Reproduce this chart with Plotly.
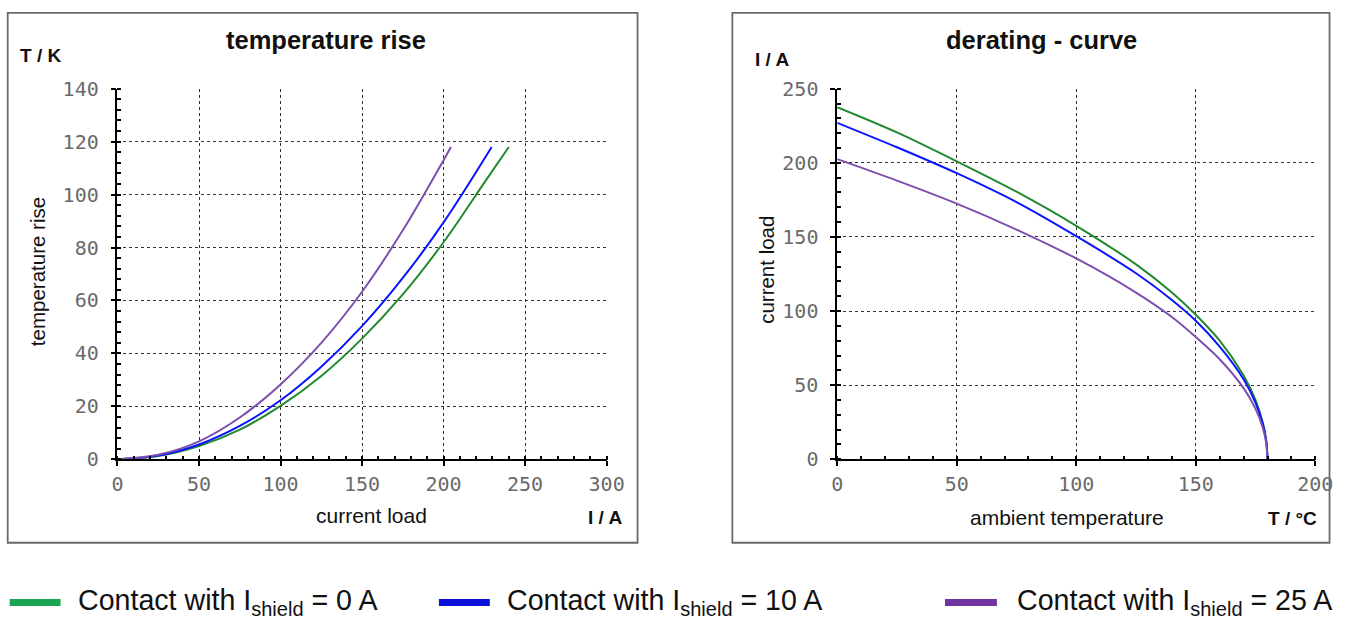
import plotly.graph_objects as go

W, H = 1349, 628
# the page photo maps figure pixel p to about 0.984*p + 5.3 (x) and 0.968*p + 10.8 (y);
# positions below are given in picture pixels and converted back
SX, BX, SY, BY = 0.984, 5.3, 0.968, 10.8

# ---------------- data ----------------
series_names = ["0 A", "10 A", "25 A"]
line_colors = ["#23892f", "#0a14ff", "#7d4fae"]
legend_colors = ["#1ba552", "#0a10d8", "#7033a0"]

# temperature rise (x: current load I / A, y: temperature rise T / K)
rise_I_0 = [0, 25, 50, 75, 100, 125, 150, 175, 200, 225, 240]
rise_T_0 = [0, 1.25, 5.0, 11.2, 20.2, 31.5, 45.6, 62.3, 82.0, 104.5, 118]
rise_I_10 = [0, 25, 50, 75, 100, 125, 150, 175, 200, 229.5]
rise_T_10 = [0, 1.4, 5.6, 12.6, 22.3, 35.0, 50.3, 68.5, 89.5, 118]
rise_I_25 = [0, 25, 50, 75, 100, 125, 150, 175, 200, 204.5]
rise_T_25 = [0, 1.7, 6.8, 15.8, 28.3, 44.0, 63.3, 86.5, 113.0, 118]

# derating curve (x: ambient temperature T / °C, y: current load I / A)
der_T = [0, 25, 50, 75, 100, 125, 140, 150, 160, 170, 175, 178, 179.5, 180]
der_I_0 = [237.5, 220.5, 201, 180.5, 157.5, 131.5, 112.5, 97.5, 80, 56.5, 40, 25, 12.5, 0]
der_I_10 = [227, 210.5, 193, 173.5, 150.5, 125.5, 107.5, 93.5, 76, 54, 38, 24, 12, 0]
der_I_25 = [202.5, 188, 172.5, 155, 135.5, 112.5, 96, 82.5, 67.5, 48, 34, 21.5, 10.5, 0]

rise_x = [rise_I_0, rise_I_10, rise_I_25]
rise_y = [rise_T_0, rise_T_10, rise_T_25]
der_y = [der_I_0, der_I_10, der_I_25]

# ---------------- figure ----------------
fig = go.Figure()
for i in range(3):
    fig.add_trace(go.Scatter(x=rise_x[i], y=rise_y[i], mode="lines",
                             line=dict(color=line_colors[i], width=2, shape="spline", smoothing=1),
                             name="Contact with I<sub>shield</sub> = " + series_names[i],
                             showlegend=False, xaxis="x", yaxis="y"))
for i in range(3):
    fig.add_trace(go.Scatter(x=der_T, y=der_y[i], mode="lines",
                             line=dict(color=line_colors[i], width=2, shape="spline", smoothing=0.8),
                             name="Contact with I<sub>shield</sub> = " + series_names[i],
                             showlegend=False, xaxis="x2", yaxis="y2"))


def px_x(t):
    p = (t - BX) / SX
    return min(max(p, 1), W - 1.5) / W


def px_y(t):
    p = (t - BY) / SY
    return 1 - min(max(p, 1), H - 1) / H


tickfont = dict(family="DejaVu Sans Mono", size=20, color="#6a6a6a")
grid = dict(showgrid=True, gridcolor="#333333", griddash="dot", gridwidth=1.3,
            showline=True, linecolor="black", linewidth=1.5, zeroline=False,
            ticks="outside", ticklen=5, tickcolor="black", tickwidth=1.5,
            tickfont=tickfont, fixedrange=True)
minor = dict(ticks="inside", ticklen=4, tickcolor="black", showgrid=False)

y_dom = [px_y(461), px_y(88)]

fig.update_layout(
    width=W, height=H,
    margin=dict(l=0, r=0, t=0, b=0),
    paper_bgcolor="white", plot_bgcolor="white",
    showlegend=False,
    xaxis=dict(domain=[px_x(117), px_x(607)], range=[0, 300], tickvals=[0, 50, 100, 150, 200, 250, 300],
               anchor="y", ticklabelstandoff=1, minor=dict(dtick=10, **minor), **grid),
    yaxis=dict(domain=y_dom, range=[0, 140], tickvals=[0, 20, 40, 60, 80, 100, 120, 140],
               anchor="x", ticklabelstandoff=8, minor=dict(dtick=4, **minor), **grid),
    xaxis2=dict(domain=[px_x(838), px_x(1317)], range=[0, 200], tickvals=[0, 50, 100, 150, 200],
                anchor="y2", ticklabelstandoff=1, minor=dict(dtick=10, **minor), **grid),
    yaxis2=dict(domain=y_dom, range=[0, 250], tickvals=[0, 50, 100, 150, 200, 250],
                anchor="x2", ticklabelstandoff=8, minor=dict(dtick=10, **minor), **grid),
)

# frames around the two charts
for x0, x1 in [(7, 638), (733, 1346)]:
    fig.add_shape(type="rect", xref="paper", yref="paper",
                  x0=px_x(x0), x1=px_x(x1), y0=px_y(545), y1=px_y(10),
                  line=dict(color="#6a6a6a", width=1.8), fillcolor="rgba(0,0,0,0)", layer="below")


def ann(text, x, y, size, xanchor="center", angle=0, weight="normal"):
    fig.add_annotation(text=text, xref="paper", yref="paper", x=px_x(x), y=px_y(y),
                       xanchor=xanchor, yanchor="middle", showarrow=False, textangle=angle,
                       font=dict(family="Liberation Sans, Arial, sans-serif", size=size,
                                 color="#111111", weight=weight))


# left chart texts
ann("temperature rise", 326, 39, 25.5, weight="bold")
ann("T / K", 17, 55, 19, xanchor="left", weight="bold")
ann("temperature rise", 37, 272, 20.5, angle=-90)
ann("current load", 371, 518, 21)
ann("I / A", 605, 520, 19, weight="bold")

# right chart texts
ann("derating - curve", 1043, 39, 25.5, weight="bold")
ann("I / A", 754, 59, 19, xanchor="left", weight="bold")
ann("current load", 767, 270, 20.5, angle=-90)
ann("ambient temperature", 1068, 520, 21)
ann("T / °C", 1294, 521, 19, weight="bold")

# legend (bars + labels)
leg_bar_x = [(9, 60), (439, 490), (946, 998)]
leg_text_x = [75, 505, 1016]
for i in range(3):
    fig.add_shape(type="line", xref="paper", yref="paper",
                  x0=px_x(leg_bar_x[i][0]), x1=px_x(leg_bar_x[i][1]), y0=px_y(605), y1=px_y(605),
                  line=dict(color=legend_colors[i], width=7))
    ann("Contact with I<sub>shield</sub> = " + series_names[i], leg_text_x[i], 605, 28.6, xanchor="left")

fig.write_html("out.html")
